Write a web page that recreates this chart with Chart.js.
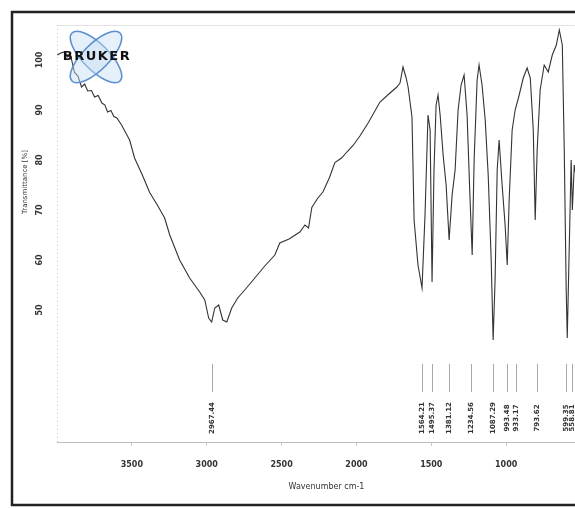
<!DOCTYPE html>
<html>
<head>
<meta charset="utf-8">
<script src="https://cdn.jsdelivr.net/npm/chart.js@4.4.1/dist/chart.umd.min.js"></script>
<style>
  html, body { margin: 0; padding: 0; background: #fff; overflow: hidden; }
  #wrap { width: 640px; height: 508px; }
</style>
</head>
<body>
<div id="wrap"><canvas id="irChart" width="640" height="508"></canvas></div>
<script>
// spectrum (wavenumber cm-1, transmittance %)
const wavenumbers = [3998, 3975, 3950, 3930, 3910, 3883, 3860, 3836, 3815, 3795, 3770, 3749, 3725, 3700, 3680, 3662, 3640, 3620, 3600, 3569,
  3515, 3482, 3430, 3381, 3330, 3281, 3247, 3181, 3114, 3047, 3013, 2987, 2967, 2946, 2920, 2893, 2866, 2833, 2793, 2746, 2679, 2612, 2545, 2512,
  2450, 2378, 2344, 2320, 2298, 2260, 2224, 2180, 2144, 2100, 2064, 2020, 1977, 1920, 1843, 1776, 1730, 1709, 1689, 1669, 1655, 1629, 1615, 1589, 1562, 1542, 1522, 1508, 1495,
  1482, 1468, 1455, 1441, 1421, 1401, 1381, 1361, 1341, 1321, 1301, 1281, 1261, 1241, 1227, 1214, 1194, 1181, 1161, 1140, 1120, 1100,
  1087, 1074, 1060, 1047, 1027, 1007, 993, 980, 960, 940, 913, 886, 860, 839, 819, 806, 793, 773, 746, 719, 692, 665, 645, 625, 612,
  599, 592, 579, 566, 558, 545, 530, 515, 500, 480, 460, 440, 420, 400];
const transmittance = [101.0, 101.4, 101.6, 100.6, 101.0, 97.5, 96.8, 94.6, 95.2, 93.8, 93.9, 92.6, 92.9, 91.4, 91.0, 89.6, 89.9, 88.7, 88.4, 87.0,
  84.0, 80.4, 77.0, 73.5, 71.0, 68.4, 65.0, 60.0, 56.4, 53.6, 52.0, 48.4, 47.6, 50.4, 51.0, 48.0, 47.6, 50.4, 52.4, 54.0, 56.4, 58.8, 61.0, 63.4,
  64.2, 65.6, 67.0, 66.4, 70.5, 72.3, 73.6, 76.5, 79.5, 80.4, 81.6, 83.0, 84.8, 87.5, 91.6, 93.4, 94.6, 95.4, 98.6, 96.5, 94.6, 88.6, 68.0, 59.0, 54.4, 69.0, 89.0, 86.0, 55.6,
  78.0, 91.0, 93.0, 89.0, 81.0, 75.0, 64.0, 73.0, 78.0, 90.0, 95.0, 97.0, 89.0, 72.0, 61.0, 80.0, 96.0, 99.0, 95.0, 88.0, 77.0, 60.0,
  44.0, 56.0, 78.0, 84.0, 75.0, 67.0, 59.0, 72.0, 86.0, 90.0, 93.0, 96.4, 98.4, 96.4, 86.0, 68.0, 82.0, 94.0, 99.0, 97.6, 101.0, 103.0, 106.0, 103.0, 82.0,
  54.0, 44.4, 62.0, 80.0, 70.0, 79.0, 76.0, 82.0, 90.0, 86.0, 78.0, 88.0, 84.0, 86.0];

const xTicks = [3500, 3000, 2500, 2000, 1500, 1000];
const yTicks = [100, 90, 80, 70, 60, 50];

// labelled peaks under the spectrum
const peakPositions = [2967, 1564, 1495, 1381, 1234, 1087, 993, 933, 793, 599, 558];
const peakLabels = ['2967.44', '1564.21', '1495.37', '1381.12', '1234.56', '1087.29', '993.48', '933.17', '793.62', '599.35', '558.81'];

const points = wavenumbers.map((w, i) => ({ x: w, y: transmittance[i] }));

const decorPlugin = {
  id: 'decor',
  beforeDraw(chart) {
    const ctx = chart.ctx;
    const a = chart.chartArea;
    ctx.save();
    ctx.fillStyle = '#fff';
    ctx.fillRect(0, 0, chart.width, chart.height);
    // outer frame
    ctx.strokeStyle = '#222';
    ctx.lineWidth = 2.5;
    ctx.strokeRect(12, 12, 612, 493);
    // plot box: light top line, dotted left line
    ctx.strokeStyle = '#e2e2e2';
    ctx.lineWidth = 1;
    ctx.beginPath();
    ctx.moveTo(a.left, a.top + 0.5);
    ctx.lineTo(a.right, a.top + 0.5);
    ctx.stroke();
    ctx.strokeStyle = '#c8c8c8';
    ctx.setLineDash([1, 3]);
    ctx.beginPath();
    ctx.moveTo(a.left + 0.5, a.top);
    ctx.lineTo(a.left + 0.5, a.bottom);
    ctx.stroke();
    ctx.restore();
  },
  afterDraw(chart) {
    const ctx = chart.ctx;
    const x = chart.scales.x;
    const y = chart.scales.y;
    ctx.save();
    // y tick labels, rotated like the original
    ctx.fillStyle = '#333';
    ctx.font = 'bold 8px "DejaVu Sans"';
    ctx.textAlign = 'center';
    ctx.textBaseline = 'middle';
    yTicks.forEach(v => {
      const py = y.getPixelForValue(v);
      ctx.save();
      ctx.translate(40, py);
      ctx.rotate(-Math.PI / 2);
      ctx.fillText(String(v), 0, 0);
      ctx.restore();
    });
    // y title
    ctx.save();
    ctx.translate(25, 182);
    ctx.rotate(-Math.PI / 2);
    ctx.font = '7px "DejaVu Sans"';
    ctx.fillText('Transmittance [%]', 0, 0);
    ctx.restore();

    // peak markers
    peakPositions.forEach((w, i) => {
      const px = Math.round(x.getPixelForValue(w)) + 0.5;
      ctx.strokeStyle = '#aaa';
      ctx.lineWidth = 1;
      ctx.beginPath();
      ctx.moveTo(px, 364);
      ctx.lineTo(px, 392);
      ctx.stroke();
      ctx.save();
      ctx.translate(px, 418);
      ctx.rotate(-Math.PI / 2);
      ctx.fillStyle = '#333';
      ctx.font = 'bold 7px "DejaVu Sans"';
      ctx.fillText(peakLabels[i], 0, 0);
      ctx.restore();
    });

    // Bruker logo
    ctx.save();
    ctx.translate(96, 57);
    [Math.PI / 4, -Math.PI / 4].forEach(r => {
      ctx.beginPath();
      ctx.ellipse(0, 0, 34, 13, r, 0, Math.PI * 2);
      ctx.fillStyle = 'rgba(200,222,245,0.45)';
      ctx.fill();
      ctx.strokeStyle = '#5b8fcf';
      ctx.lineWidth = 1.6;
      ctx.stroke();
    });
    ctx.fillStyle = '#111';
    ctx.font = 'bold 13px "DejaVu Sans"';
    ctx.letterSpacing = '1.5px';
    ctx.fillText('BRUKER', 1, 0);
    ctx.restore();
    ctx.restore();
  }
};

new Chart(document.getElementById('irChart'), {
  type: 'line',
  data: {
    datasets: [{
      data: points,
      borderColor: '#333',
      borderWidth: 1.1,
      pointRadius: 0,
      tension: 0,
      fill: false
    }]
  },
  options: {
    responsive: false,
    animation: false,
    layout: { padding: { left: 57, right: 44, top: 25, bottom: 0 } },
    plugins: { legend: { display: false }, tooltip: { enabled: false } },
    scales: {
      x: {
        type: 'linear',
        reverse: true,
        min: 400,
        max: 4000,
        afterBuildTicks: s => { s.ticks = xTicks.map(v => ({ value: v })); },
        afterFit: s => { s.height = 66; },
        grid: { drawOnChartArea: false, tickLength: 4, color: '#c8c8c8' },
        border: { display: true, color: '#bdbdbd' },
        ticks: { color: '#333', font: { size: 8, weight: 'bold', family: 'DejaVu Sans' }, padding: 14, maxRotation: 0, callback: v => String(v) },
        title: { display: true, text: 'Wavenumber cm-1', color: '#333', font: { size: 8, family: 'DejaVu Sans' }, padding: { top: 2, bottom: 16 } }
      },
      y: {
        min: 23.6,
        max: 107,
        afterFit: s => { s.width = 0; },
        grid: { display: false },
        border: { display: false },
        ticks: { display: false }
      }
    }
  },
  plugins: [decorPlugin]
});
</script>
</body>
</html>
